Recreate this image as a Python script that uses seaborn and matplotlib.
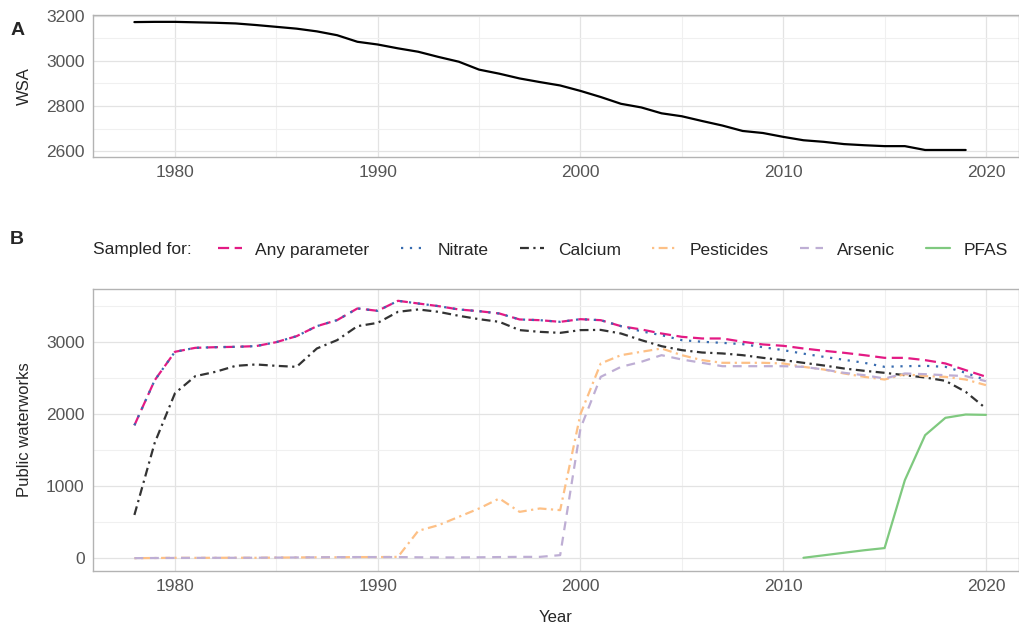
import matplotlib
matplotlib.use("Agg")
import matplotlib.pyplot as plt
from matplotlib.ticker import MultipleLocator
import pandas as pd
import seaborn as sns

# panel A: water supply areas
wsa_years = list(range(1978, 2020))
wsa_values = [3171, 3172, 3172, 3170, 3168, 3165, 3158, 3150, 3142, 3130, 3113, 3084,
              3072, 3055, 3040, 3017, 2996, 2961, 2943, 2922, 2906, 2891, 2867, 2840,
              2810, 2794, 2768, 2755, 2734, 2714, 2690, 2681, 2664, 2649, 2642, 2632,
              2627, 2623, 2623, 2606, 2606, 2606]

# panel B: public waterworks sampled
years = list(range(1978, 2021))
any_param = [1845, 2470, 2866, 2921, 2930, 2935, 2945, 3000, 3083, 3222, 3306, 3468,
             3435, 3574, 3537, 3500, 3454, 3430, 3398, 3315, 3305, 3282, 3319, 3305,
             3222, 3176, 3120, 3074, 3051, 3051, 3005, 2968, 2949, 2912, 2880, 2852,
             2819, 2782, 2782, 2750, 2704, 2611, 2520]
nitrate = [1845, 2470, 2866, 2921, 2930, 2935, 2945, 3000, 3083, 3222, 3306, 3468,
           3435, 3574, 3537, 3500, 3454, 3430, 3398, 3315, 3305, 3282, 3319, 3305,
           3222, 3150, 3097, 3028, 3005, 2990, 2972, 2930, 2889, 2840, 2796, 2755,
           2713, 2657, 2666, 2671, 2657, 2574, 2472]
calcium = [600, 1600, 2290, 2527, 2588, 2671, 2690, 2671, 2657, 2912, 3028, 3222,
           3268, 3421, 3454, 3421, 3366, 3319, 3282, 3167, 3143, 3129, 3167, 3170,
           3120, 3028, 2944, 2889, 2856, 2843, 2819, 2782, 2750, 2713, 2676, 2634,
           2602, 2574, 2541, 2509, 2463, 2310, 2079]
pesticides = [0, 2, 5, 4, 5, 6, 5, 8, 10, 12, 12, 15, 15, 18, 380, 458, 574, 690,
              829, 643, 690, 667, 2000, 2704, 2819, 2866, 2912, 2819, 2750, 2713, 2713,
              2713, 2704, 2657, 2620, 2565, 2518, 2481, 2555, 2528, 2518, 2481, 2403]
arsenic = [0, 2, 3, 4, 5, 5, 6, 8, 10, 12, 14, 15, 15, 15, 12, 10, 10, 12, 15, 18,
           18, 42, 1801, 2518, 2657, 2727, 2819, 2759, 2713, 2666, 2666, 2666, 2666,
           2657, 2620, 2574, 2541, 2495, 2565, 2555, 2541, 2528, 2458]
pfas_years = list(range(2011, 2021))
pfas = [5, 40, 75, 110, 140, 1083, 1708, 1949, 1995, 1990]

series_names = ["Any parameter", "Nitrate", "Calcium", "Pesticides", "Arsenic", "PFAS"]
colors = ["#E31A84", "#386CB0", "#333333", "#FDC086", "#BEAED4", "#7FC97F"]
dash_styles = [(5, 2.5), (1, 3), (4, 2, 1, 2), (1, 2, 4, 2), (4, 3), ""]

wsa_df = pd.DataFrame({"Year": wsa_years, "WSA": wsa_values})

frames = []
for name, vals in zip(series_names[:5], [any_param, nitrate, calcium, pesticides, arsenic]):
    frames.append(pd.DataFrame({"Year": years, "count": vals, "series": name}))
frames.append(pd.DataFrame({"Year": pfas_years, "count": pfas, "series": "PFAS"}))
pw_df = pd.concat(frames, ignore_index=True)

sns.set_style("white")
plt.rcParams["font.family"] = ["Liberation Sans", "DejaVu Sans"]

fig = plt.figure(figsize=(10.19, 6.28), dpi=100)
ax_a = fig.add_axes([0.0913, 0.75, 0.9087, 0.226])
ax_b = fig.add_axes([0.0913, 0.0908, 0.9087, 0.449])

sns.lineplot(data=wsa_df, x="Year", y="WSA", color="black", linewidth=1.6, ax=ax_a)

sns.lineplot(data=pw_df, x="Year", y="count", hue="series", style="series",
             hue_order=series_names, style_order=series_names,
             palette=dict(zip(series_names, colors)),
             dashes=dict(zip(series_names, dash_styles)),
             linewidth=1.6, ax=ax_b)

handles, labels = ax_b.get_legend_handles_labels()
keep = [(h, l) for h, l in zip(handles, labels) if l in series_names]
ax_b.get_legend().remove()
fig.legend([h for h, _ in keep], [l for _, l in keep], loc="center left",
           bbox_to_anchor=(0.214, 0.602), ncol=6, frameon=False, fontsize=12.5,
           handlelength=1.35, handletextpad=0.8, columnspacing=1.8,
           borderpad=0, borderaxespad=0)
fig.text(0.091, 0.602, "Sampled for:", fontsize=12.5, va="center", ha="left")

for ax in (ax_a, ax_b):
    ax.set_xlim(1975.96, 2021.63)
    ax.xaxis.set_major_locator(MultipleLocator(10))
    ax.xaxis.set_minor_locator(MultipleLocator(5))
    ax.grid(which="major", color="#E3E3E3", linewidth=0.9)
    ax.grid(which="minor", color="#F0F0F0", linewidth=0.8)
    ax.set_axisbelow(True)
    for sp in ax.spines.values():
        sp.set_color("#B3B3B3")
        sp.set_linewidth(1.0)
    ax.tick_params(which="major", length=3, color="#B3B3B3", labelsize=12.5,
                   labelcolor="#555555", pad=3)
    ax.tick_params(which="minor", length=0)

ax_a.set_ylim(2575, 3202)
ax_a.yaxis.set_major_locator(MultipleLocator(200))
ax_a.yaxis.set_minor_locator(MultipleLocator(100))
ax_a.set_xlabel("")
ax_a.set_ylabel("WSA", fontsize=12)
ax_a.yaxis.set_label_coords(-0.066, 0.5)

ax_b.set_ylim(-178, 3738)
ax_b.yaxis.set_major_locator(MultipleLocator(1000))
ax_b.yaxis.set_minor_locator(MultipleLocator(500))
ax_b.set_ylabel("Public waterworks", fontsize=12)
ax_b.yaxis.set_label_coords(-0.066, 0.5)
ax_b.set_xlabel("Year", fontsize=12)
ax_b.xaxis.set_label_coords(0.5, -0.14)

fig.text(0.010, 0.952, "A", fontsize=14, fontweight="bold", va="center")
fig.text(0.010, 0.618, "B", fontsize=14, fontweight="bold", va="center")

fig.savefig("out.png", dpi=100)
